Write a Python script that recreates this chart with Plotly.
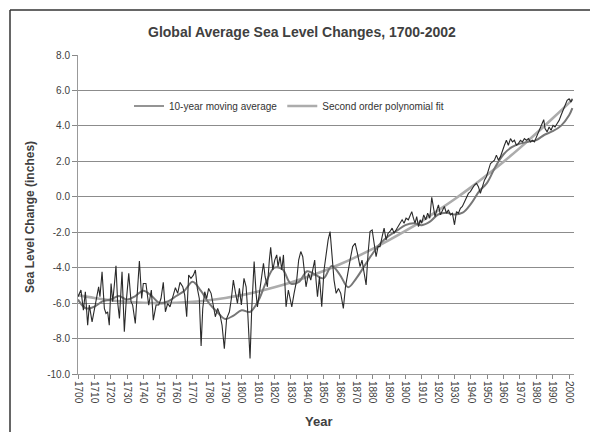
import plotly.graph_objects as go

# Annual (dark, noisy) series
annual_years = [1700.0,1701.8,1703.3,1704.5,1705.9,1706.9,1708.6,1710.0,1711.4,1712.6,1713.4,1714.7,1716.1,1717.1,1718.1,1719.1,1720.2,1721.2,1722.2,1723.2,1724.2,1725.3,1726.9,1728.3,1729.3,1731.0,1732.4,1733.4,1735.0,1736.0,1737.5,1738.9,1739.9,1741.5,1743.2,1744.8,1746.0,1747.7,1749.3,1750.7,1752.1,1753.4,1754.8,1756.2,1757.8,1759.5,1760.9,1762.3,1764.0,1765.2,1766.4,1767.6,1769.0,1770.5,1771.7,1772.9,1774.1,1775.2,1776.2,1777.4,1778.6,1779.8,1781.3,1782.7,1783.9,1785.3,1786.8,1788.0,1789.4,1790.8,1792.5,1793.7,1794.9,1796.1,1797.4,1798.6,1799.8,
    1801.4,1802.7,1803.5,1805.1,1806.1,1807.6,1808.8,1809.6,1810.8,1812.2,1813.3,1814.3,1815.7,1816.9,1817.7,1819.0,1820.2,1821.4,1822.2,1823.4,1824.5,1825.5,1826.5,1827.1,1828.5,1829.5,1830.6,1832.0,1833.6,1834.8,1836.1,1837.3,1838.1,1839.3,1840.8,1842.2,1843.4,1844.6,1845.4,1846.3,1847.5,1848.9,1850.3,1851.5,1852.8,1854.0,1855.2,1856.4,1857.7,1859.1,1860.5,1862.1,1863.4,1864.6,1866.2,1867.8,1869.3,1870.7,1872.3,1873.5,1874.8,1876.0,1877.2,1878.4,1879.7,1880.9,1882.1,1883.3,1884.5,1885.8,1887.0,1888.2,1889.4,1890.6,1891.9,1893.1,1894.3,1895.5,1896.8,1898.0,1899.2,1900.4,
    1901.8,1903.9,1904.9,1905.9,1906.9,1908.0,1909.0,1910.0,1911.2,1912.4,1913.6,1914.9,1916.1,1917.1,1918.1,1919.2,1920.2,1921.4,1922.6,1923.8,1925.1,1926.3,1927.5,1928.7,1930.0,1931.2,1932.4,1933.6,1934.8,1936.1,1937.3,1938.5,1939.7,1940.9,1942.2,1943.4,1944.6,1945.8,1947.1,1948.3,1949.5,1950.7,1952.0,1953.2,1954.4,1955.6,1956.8,1958.0,1959.3,1960.5,1961.7,1962.9,1964.2,1965.4,1966.6,1967.8,1969.0,1970.3,1971.5,1972.7,1973.9,1975.2,1976.4,1977.6,1978.8,1980.0,1981.3,1982.5,1983.7,1984.5,1985.3,1986.6,1987.8,1989.0,1990.2,1991.4,1992.7,1993.9,1995.1,1996.3,1997.5,1998.8,2000.0,2001.2,2002.0]
annual_values = [-5.64,-5.26,-6.40,-5.36,-7.25,-6.11,-7.06,-6.30,-5.64,-5.08,-5.64,-4.23,-6.30,-6.58,-6.49,-7.25,-4.89,-5.92,-4.98,-3.89,-5.92,-6.87,-4.23,-7.62,-6.11,-4.32,-5.92,-6.11,-7.15,-5.74,-3.62,-5.74,-4.89,-4.89,-6.11,-5.26,-6.96,-6.11,-6.11,-5.74,-4.83,-6.49,-6.02,-6.21,-5.64,-5.13,-5.45,-4.83,-5.08,-5.55,-6.77,-4.42,-4.60,-4.42,-4.13,-5.17,-5.74,-8.42,-6.30,-5.36,-5.74,-5.17,-5.45,-6.21,-6.77,-6.30,-6.68,-7.25,-8.57,-6.87,-6.49,-5.74,-4.70,-5.36,-6.02,-5.17,-6.11,
    -4.60,-5.08,-6.21,-9.13,-6.40,-3.66,-5.45,-6.21,-5.45,-4.51,-3.75,-4.51,-5.08,-3.57,-2.85,-4.13,-3.57,-3.28,-3.94,-3.38,-4.13,-3.28,-5.45,-6.21,-5.26,-5.64,-6.21,-5.45,-4.70,-3.57,-3.09,-3.38,-4.13,-5.08,-4.32,-4.70,-4.13,-3.57,-4.70,-5.64,-4.51,-6.21,-4.13,-3.19,-2.43,-1.96,-3.38,-4.70,-5.45,-5.17,-5.45,-6.30,-5.08,-4.32,-3.57,-2.81,-2.62,-3.19,-3.94,-3.57,-4.32,-4.98,-3.19,-1.96,-1.87,-2.53,-3.38,-2.81,-2.81,-2.25,-1.77,-2.43,-2.06,-1.96,-1.77,-2.06,-1.87,-1.68,-1.49,-1.30,-1.49,-1.21,
    -1.30,-0.84,-1.21,-1.49,-1.12,-1.68,-1.30,-1.49,-1.02,-1.30,-0.93,-1.21,-0.03,-0.65,-1.12,-0.74,-0.46,-1.02,-0.74,-0.55,-0.93,-0.74,-1.02,-0.93,-1.58,-0.84,-0.93,-0.65,-0.55,-0.27,-0.09,0.19,0.29,0.48,0.66,0.76,0.57,0.19,0.66,0.94,1.13,1.51,1.88,1.97,2.07,2.35,2.07,2.25,2.54,2.91,3.19,2.91,3.28,3.10,3.19,2.91,3.00,3.19,3.10,3.28,3.19,3.28,3.10,3.19,3.10,3.38,3.66,3.85,4.13,4.35,3.85,3.66,3.94,3.75,4.03,3.94,4.13,4.31,4.60,4.88,5.25,5.44,5.53,5.34,5.53]

# Smoother (medium gray) series
smooth_years = list(range(1700, 2001, 5)) + [2002]
smooth_values = [-5.8,-6.3,-6.2,-5.9,-5.8,-5.6,-5.8,-5.6,-5.3,-5.6,-6.0,-5.9,-5.6,-5.3,-4.8,-5.3,-6.0,-6.5,-6.9,-6.7,-6.4,-6.5,-5.9,-4.8,-4.0,-4.1,-4.9,-4.8,-4.2,-4.4,-4.6,-3.9,-4.4,-5.1,-4.6,-3.9,-3.2,-2.6,-2.2,-1.9,-1.6,-1.5,-1.6,-1.4,-1.0,-0.9,-1.0,-0.9,-0.4,0.3,0.8,1.7,2.4,2.8,3.0,3.1,3.2,3.5,3.7,4.0,4.6,5.0]

# Second order polynomial fit (light gray)
poly_years = list(range(1700, 2001, 10)) + [2002]
poly_values = [-5.55,-5.71,-5.84,-5.93,-5.98,-6.00,-5.98,-5.93,-5.84,-5.71,-5.55,-5.35,-5.11,-4.84,-4.53,-4.19,-3.81,-3.39,-2.94,-2.45,-1.93,-1.37,-0.77,-0.14,0.53,1.24,1.98,2.76,3.58,4.43,5.30,5.49]

x_ticks = list(range(1700, 2001, 10))
x_ticktext = [str(v) for v in x_ticks]
y_ticks = list(range(-10, 9, 2))
y_ticktext = ["%.1f" % v for v in y_ticks]

FONT = "Liberation Sans, Arial, sans-serif"
TXT = "#404040"

fig = go.Figure()
fig.add_trace(go.Scatter(x=poly_years, y=poly_values, mode="lines",
                         line=dict(color="#acacac", width=2.6, shape="spline"),
                         name="Second order polynomial fit", legendrank=2))
fig.add_trace(go.Scatter(x=smooth_years, y=smooth_values, mode="lines",
                         line=dict(color="#777777", width=2.0, shape="spline"),
                         showlegend=False))
fig.add_trace(go.Scatter(x=annual_years, y=annual_values, mode="lines",
                         line=dict(color="#2a2a2a", width=1.1),
                         name="10-year moving average", legendrank=1))

L, R, T, B = 78, 16, 55, 58
pw = 590 - L - R
ph = 432 - T - B
def px(xp): return (xp - L) / pw
def py(yp): return (432 - B - yp) / ph

fig.update_layout(
    width=590, height=432,
    margin=dict(l=L, r=R, t=T, b=B),
    paper_bgcolor="white", plot_bgcolor="white",
    font=dict(family=FONT, color=TXT, size=10),
    showlegend=True,
    legend=dict(orientation="h", x=px(129), y=py(106), xanchor="left", yanchor="middle",
                font=dict(size=10, color="#333333"), bgcolor="rgba(0,0,0,0)",
                itemwidth=30, traceorder="normal"),
    xaxis=dict(range=[1700, 2003], tickvals=x_ticks, ticktext=x_ticktext, tickangle=90,
               ticks="outside", ticklen=4, tickcolor="#888888", showline=True,
               linecolor="#999999", linewidth=1, showgrid=False, zeroline=False,
               tickfont=dict(size=10, color=TXT)),
    yaxis=dict(range=[-10, 8], tickvals=y_ticks, ticktext=y_ticktext, ticks="outside",
               ticklen=5, tickcolor="#888888", showline=True, linecolor="#999999",
               linewidth=1, showgrid=True, gridcolor="#8c8c8c", gridwidth=1,
               zeroline=False, tickfont=dict(size=10, color=TXT)),
    annotations=[
        dict(text="<b>Global Average Sea Level Changes, 1700-2002</b>", xref="paper", yref="paper",
             x=px(302), y=py(32), xanchor="center", yanchor="middle", showarrow=False,
             font=dict(size=14, color=TXT, family=FONT)),
        dict(text="<b>Sea Level Change (inches)</b>", xref="paper", yref="paper",
             x=px(30), y=py(217), xanchor="center", yanchor="middle", showarrow=False,
             textangle=-90, font=dict(size=12, color=TXT, family=FONT)),
        dict(text="<b>Year</b>", xref="paper", yref="paper",
             x=px(318), y=py(421), xanchor="center", yanchor="middle", showarrow=False,
             font=dict(size=13, color=TXT, family=FONT)),
    ],
    shapes=[
        dict(type="line", xref="paper", yref="paper", x0=px(10), x1=px(10), y0=py(445), y1=py(10),
             line=dict(color="#333333", width=1.5)),
        dict(type="line", xref="paper", yref="paper", x0=px(10), x1=px(600), y0=py(10), y1=py(10),
             line=dict(color="#333333", width=1.5)),
    ],
)

fig.write_html("out.html", config={"displayModeBar": False},
               post_script="document.body.style.margin='0';document.body.style.overflow='hidden';")
